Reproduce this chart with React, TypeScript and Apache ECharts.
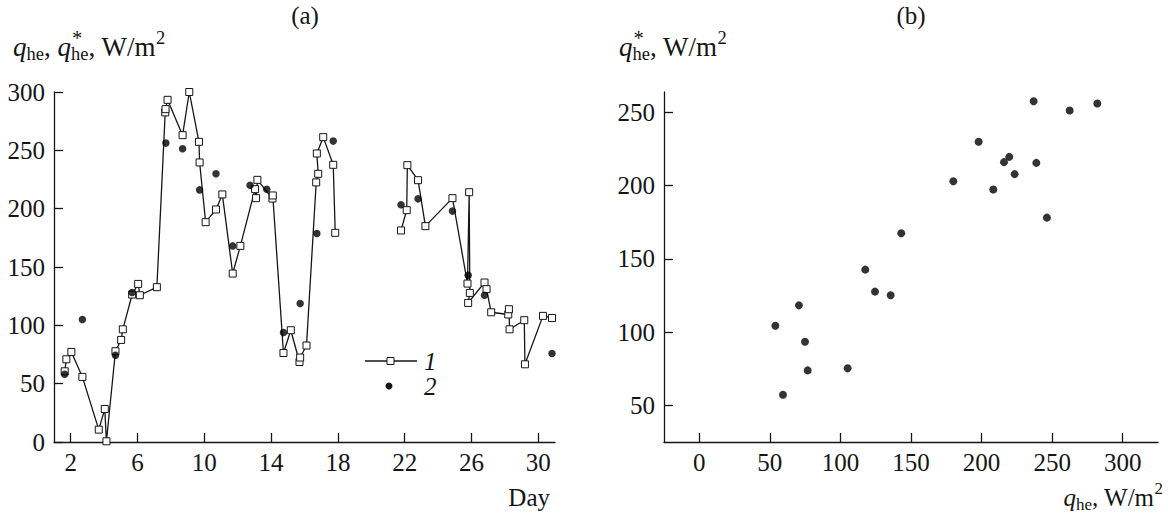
import React, { useEffect, useRef } from "react";
import * as echarts from "echarts";

// ---- tick labels ----
const dayTicks = [2, 6, 10, 14, 18, 22, 26, 30];
const leftYTicks = [0, 50, 100, 150, 200, 250, 300];
const rightXTicks = [0, 50, 100, 150, 200, 250, 300];
const rightYTicks = [50, 100, 150, 200, 250];

// ---- panel (a), series 1: q_he (open squares joined by a line); null = data gap ----
const q1Days = [1.64, 1.74, 2.04, 2.7, 3.68, 4.04, 4.14, 4.68, 5.02, 5.12, 5.68, 6.04, 6.14, 7.16, 7.66, 7.68, 7.8, 8.7, 9.1, 9.68, 9.72, 10.08, 10.7, 11.08, 11.7, 12.16, 13.04, 13.1, 13.18, 14.08, 14.1, 14.74, 15.18, 15.7, 15.74, 16.12, 16.7, 16.82, 16.74, 17.12, 17.72, 17.84, 20, 21.78, 22.12, 22.16, 22.8, 23.24, 24.86, 25.76, 25.86, 25.9, 25.8, 26.78, 26.9, 27.18, 28.2, 28.24, 28.28, 29.16, 29.2, 30.28, 30.82];
const q1Values = [60.6, 70.9, 77.2, 55.8, 10.6, 28.3, 0.6, 77.8, 87.5, 96.6, 126.4, 135.5, 125.8, 132.7, 282.5, 285.3, 293.3, 263, 300, 257.3, 239.6, 188.4, 199.3, 212.2, 144.4, 168.1, 216.7, 209, 224.7, 208.7, 211.3, 76.3, 95.8, 68.6, 72.4, 82.7, 222.5, 229.9, 247.3, 261.3, 237.6, 179.3, null, 181.3, 198.7, 237.3, 224.4, 185, 209, 135.8, 214.1, 127.8, 119.2, 136.7, 131, 111.2, 109.3, 113.8, 96.6, 104.4, 66.6, 108.1, 106.3];

// ---- panel (a), series 2: q*_he (filled dots) ----
const q2Days = [1.64, 2.7, 4.68, 5.68, 7.7, 8.7, 9.72, 10.7, 11.7, 12.74, 13.74, 14.74, 15.74, 16.74, 17.72, 21.78, 22.8, 24.86, 25.8, 26.78, 30.82];
const q2Values = [58.1, 105, 74.4, 128.1, 256.2, 251.3, 216.1, 229.9, 168.1, 220.1, 216.7, 93.8, 118.7, 178.7, 257.9, 203.3, 208.4, 197.9, 143, 125.8, 75.8];

// ---- panel (b): q_he vs q*_he ----
const scatterQ = [236.9, 262.4, 282.0, 197.9, 219.6, 215.9, 238.8, 223.4, 180.0, 208.3, 246.3, 143.1, 117.6, 124.5, 135.6, 70.6, 53.9, 74.9, 76.8, 105.1, 59.3];
const scatterQStar = [257.7, 251.4, 256.2, 230.0, 219.7, 216.1, 215.6, 207.9, 203.1, 197.4, 178.2, 167.5, 142.7, 127.7, 125.2, 118.3, 104.4, 93.5, 73.9, 75.3, 57.3];

const INK = "#151515";
const FONT = "'Liberation Serif', 'DejaVu Serif', 'Times New Roman', serif";
const F = 25;

function t(x: number, y: number, text: string, size: number, opts: any = {}) {
  const align = opts.align || "left";
  const style: any = {
    text,
    fontSize: size,
    fontFamily: FONT,
    fontStyle: opts.italic ? "italic" : "normal",
    fill: INK,
    textAlign: align,
    align,
    textVerticalAlign: "middle",
    verticalAlign: "middle",
  };
  if (opts.lineHeight) style.lineHeight = opts.lineHeight;
  return { type: "text", x, y, silent: true, style };
}

// q_he label piece starting at x0, main-line middle at y; M main size, s sub size
function qhe(x0: number, y: number, star: boolean, M: number, s: number) {
  const els: any[] = [];
  els.push(t(x0, y, "q", M, { italic: true }));
  const xs = x0 + 0.5 * M;
  els.push(t(xs, y + 7, "he", s, { lineHeight: 10 }));
  if (star) els.push(t(xs + 1, y - 9, "*", s + 2, { lineHeight: 10 }));
  return { els, end: xs + 0.944 * s };
}

function unitLabel(x0: number, y: number, parts: any[], M: number, s: number) {
  parts.push(t(x0, y, ", W/m", M));
  const x2 = x0 + 2.5 * M;
  parts.push(t(x2, y - 9, "2", s, { lineHeight: 10 }));
}

function buildGraphics() {
  const g: any[] = [];
  const TM = 27;
  const TS = 18.5;
  // panel titles
  g.push(t(305, 15, "(a)", F, { align: "center" }));
  g.push(t(911, 15, "(b)", F, { align: "center" }));

  // left y title: q_he, q*_he, W/m2
  {
    const y = 47;
    const a = qhe(13, y, false, TM, TS);
    g.push(...a.els);
    g.push(t(a.end, y, ", ", TM));
    const b = qhe(a.end + 0.5 * TM, y, true, TM, TS);
    g.push(...b.els);
    unitLabel(b.end, y, g, TM, TS);
  }
  // right y title: q*_he, W/m2
  {
    const y = 47;
    const a = qhe(619, y, true, TM, TS);
    g.push(...a.els);
    unitLabel(a.end, y, g, TM, TS);
  }
  // right x title: q_he, W/m2 (right aligned near 1163)
  {
    const y = 497;
    const s = 17;
    const total = 0.5 * F + 0.944 * s + 2.5 * F + 0.5 * s;
    const a = qhe(1163 - total, y, false, F, s);
    g.push(...a.els);
    unitLabel(a.end, y, g, F, s);
  }
  // left x title
  g.push(t(550, 497, "Day", F, { align: "right" }));

  // legend of panel (a)
  g.push({ type: "line", silent: true, shape: { x1: 365, y1: 361, x2: 417, y2: 361 }, style: { stroke: INK, lineWidth: 1.3 } });
  g.push({ type: "rect", silent: true, shape: { x: 387, y: 357.5, width: 7, height: 7 }, style: { fill: "#fff", stroke: INK, lineWidth: 1 } });
  g.push(t(424, 361, "1", F, { italic: true }));
  g.push({ type: "circle", silent: true, shape: { cx: 389, cy: 386, r: 3.5 }, style: { fill: INK } });
  g.push(t(424, 386, "2", F, { italic: true }));
  return g;
}

const axisLine = { show: true, onZero: false, lineStyle: { color: INK, width: 1.3 } };
const tickStyle = { color: INK, width: 1.3 };
const labelStyle = { fontSize: F, fontFamily: FONT, color: INK };

export default function App() {
  const ref = useRef<HTMLDivElement>(null);
  useEffect(() => {
    document.body.style.margin = "0";
    if (!ref.current) return;
    const chart = echarts.init(ref.current, null, { renderer: "svg" });

    const q1 = q1Days.map((d, i) => [d, q1Values[i] === null ? "-" : q1Values[i]]);
    const q2 = q2Days.map((d, i) => [d, q2Values[i]]);
    const sc = scatterQ.map((x, i) => [x, scatterQStar[i]]);

    chart.setOption({
      animation: false,
      backgroundColor: "#ffffff",
      grid: [
        { left: 54, top: 92, width: 501, height: 350 },
        { left: 664, top: 92, width: 494, height: 350 },
      ],
      xAxis: [
        {
          gridIndex: 0, type: "value", min: 1, max: 31,
          axisLine, splitLine: { show: false },
          axisTick: { show: true, inside: true, length: 9, customValues: dayTicks, lineStyle: tickStyle },
          axisLabel: { ...labelStyle, margin: 8, customValues: dayTicks },
        },
        {
          gridIndex: 1, type: "value", min: -25, max: 325,
          axisLine, splitLine: { show: false },
          axisTick: { show: true, inside: true, length: 9, customValues: rightXTicks, lineStyle: tickStyle },
          axisLabel: { ...labelStyle, margin: 8, customValues: rightXTicks },
        },
      ],
      yAxis: [
        {
          gridIndex: 0, type: "value", min: 0, max: 300,
          axisLine, splitLine: { show: false },
          axisTick: { show: true, inside: true, length: 9, customValues: leftYTicks, lineStyle: tickStyle },
          axisLabel: { ...labelStyle, margin: 9, customValues: leftYTicks },
        },
        {
          gridIndex: 1, type: "value", min: 25, max: 264,
          axisLine, splitLine: { show: false },
          axisTick: { show: true, inside: true, length: 9, customValues: rightYTicks, lineStyle: tickStyle },
          axisLabel: { ...labelStyle, margin: 9, customValues: rightYTicks },
        },
      ],
      series: [
        {
          name: "1", type: "line", xAxisIndex: 0, yAxisIndex: 0, data: q1,
          symbol: "rect", symbolSize: 7, showSymbol: true, showAllSymbol: true, connectNulls: false,
          itemStyle: { color: "#ffffff", borderColor: INK, borderWidth: 1 },
          lineStyle: { color: INK, width: 1.3 }, z: 2, silent: true,
        },
        {
          name: "2", type: "scatter", xAxisIndex: 0, yAxisIndex: 0, data: q2,
          symbol: "circle", symbolSize: 7.5, itemStyle: { color: "#000000" }, z: 3, silent: true,
        },
        {
          name: "b", type: "scatter", xAxisIndex: 1, yAxisIndex: 1, data: sc,
          symbol: "circle", symbolSize: 8, itemStyle: { color: "#000000" }, z: 3, silent: true,
        },
      ],
      graphic: buildGraphics(),
    });
    return () => chart.dispose();
  }, []);
  return <div ref={ref} style={{ position: "fixed", left: 0, top: 0, width: 1168, height: 515 }} />;
}
